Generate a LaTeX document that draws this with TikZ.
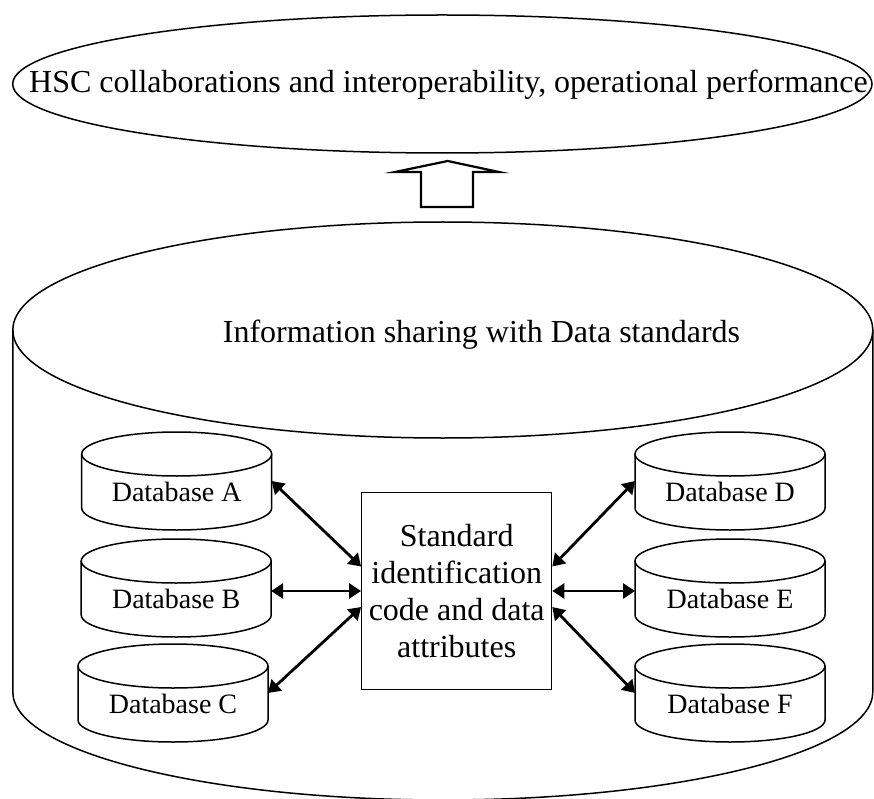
\documentclass[tikz,border=0pt]{standalone}
\usepackage{fontspec}
\setmainfont{Liberation Serif}
\usetikzlibrary{shapes.geometric,arrows.meta}

\tikzset{
  outline/.style={draw=black, line width=1.5pt},
  bigfont/.style={font=\fontsize{32pt}{37.5pt}\selectfont},
  dbfont/.style={font=\fontsize{28pt}{33pt}\selectfont},
  dbbody/.style={rectangle, minimum width=190pt, minimum height=54pt, inner sep=0pt, outer sep=0pt},
  link/.style={line width=2.8pt, {Triangle[length=12pt,width=15pt]}-{Triangle[length=12pt,width=15pt]}},
  hub/.style={draw, line width=1.2pt, minimum width=190pt, minimum height=196.6pt,
    inner sep=0pt, align=center, font=\fontsize{32pt}{37.3pt}\selectfont},
  uparrow/.style={draw, line width=2.2pt, line join=miter},
}

% database drum: #1 name, #2 centre x, #3 depth of the top ellipse centre, #4 label
\newcommand{\dbdrum}[4]{%
  \draw[outline] (#2-95,-#3) -- (#2-95,-#3-54)
    arc[start angle=180, end angle=360, x radius=95, y radius=22] -- (#2+95,-#3);
  \draw[outline] (#2,-#3) ellipse[x radius=95, y radius=22];
  \node[dbbody] (#1) at (#2,-#3-27) {};
  \node[dbfont, anchor=base, inner sep=0pt] (#1-label) at (#2,-#3-47) {#4};
}

\begin{document}
\begin{tikzpicture}[x=1pt,y=1pt]
\useasboundingbox (0,0) rectangle (874,-799);

% shared data platform drawn as a large drum
\node[ellipse, outline, minimum width=860pt, minimum height=216pt, inner sep=0pt, outer sep=0pt]
  (platform) at (442.8,-330) {};
\draw[outline] (platform.west) -- ++(0,-362)
  arc[start angle=180, end angle=360, x radius=430, y radius=108] -- (platform.east);
\node[bigfont, anchor=base, inner sep=0pt] (platform-label) at (481.5,-342)
  {Information sharing with Data standards};

% outcome
\node[ellipse, outline, minimum width=859.3pt, minimum height=138pt, inner sep=0pt, outer sep=0pt]
  (outcome) at (442.35,-84) {};
\node[bigfont, anchor=base, inner sep=0pt] (outcome-label) at (448.5,-93)
  {HSC collaborations and interoperability, operational performance};

% block arrow from platform to outcome
\draw[uparrow] (421,-207) -- (421,-172) -- (395,-172) -- (447.7,-161)
  -- (499,-172) -- (473,-172) -- (473,-207) -- cycle;

% databases
\dbdrum{dbA}{176.7}{454}{Database A}
\dbdrum{dbB}{176.2}{561}{Database B}
\dbdrum{dbC}{173}{666}{Database C}
\dbdrum{dbD}{730}{454}{Database D}
\dbdrum{dbE}{730}{561}{Database E}
\dbdrum{dbF}{730}{666}{Database F}

% standard in the middle
\node[hub] (core) at (456.7,-591) {Standard\\identification\\code and data\\attributes};

% exchanges
\draw[link] (dbA.east) -- ([yshift=24.5pt]core.west);
\draw[link] (dbB.east |- core.west) -- (core.west);
\draw[link] (dbC.east) -- ([yshift=-16pt]core.west);
\draw[link] (dbD.west) -- ([yshift=24.5pt]core.east);
\draw[link] (dbE.west |- core.east) -- (core.east);
\draw[link] (dbF.west) -- ([yshift=-16pt]core.east);
\end{tikzpicture}
\end{document}
